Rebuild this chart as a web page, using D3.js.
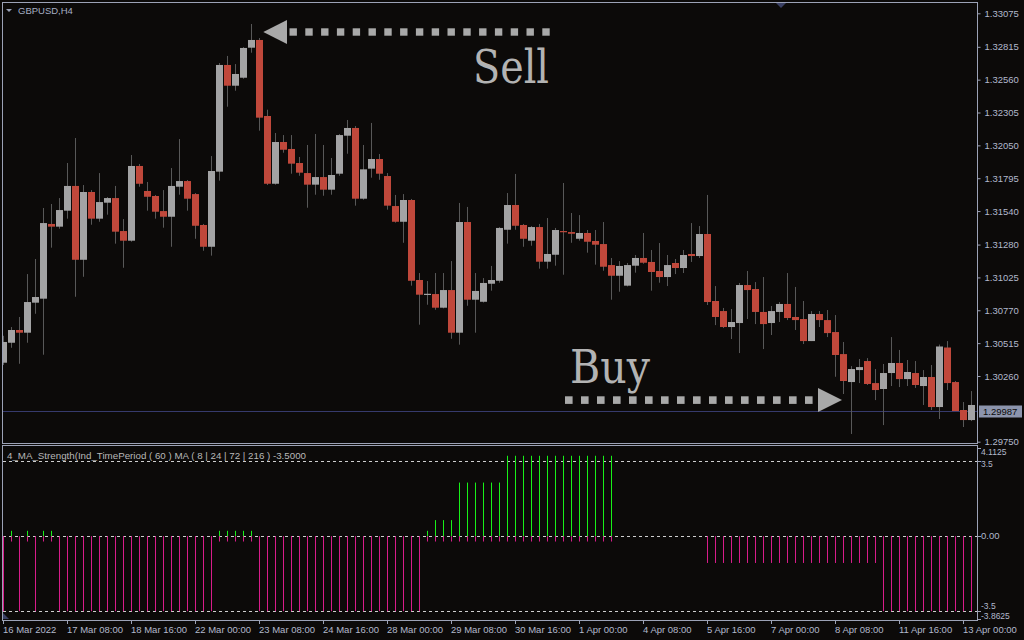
<!DOCTYPE html>
<html><head><meta charset="utf-8">
<script src="https://cdn.jsdelivr.net/npm/d3@7"></script>
<style>html,body{margin:0;padding:0;background:#0c0a09;} svg{display:block}</style>
</head><body><svg id="c" width="1024" height="640"></svg>
<script>
// ---- DATA (GBPUSD H4) ----
const openP = [1.30363,1.30518,1.30617,1.30596,1.30829,1.30860,1.31440,1.31419,1.31543,1.31735,
1.31162,1.31688,1.31481,1.31605,1.31641,1.31385,1.31310,1.31890,1.31696,1.31657,
1.31540,1.31496,1.31729,1.31773,1.31672,1.31432,1.31263,1.31846,1.32674,1.32513,
1.32575,1.32808,1.32868,1.32278,1.31752,1.32076,1.32022,1.31913,1.31835,1.31745,
1.31804,1.31706,1.31830,1.32125,1.32185,1.31636,1.31869,1.31944,1.31812,1.31579,
1.31457,1.31626,1.31005,1.30891,1.30896,1.30790,1.30927,1.30596,1.31455,1.30852,
1.30836,1.30976,1.30999,1.31395,1.31587,1.31432,1.31310,1.31416,1.31147,1.31201,
1.31385,1.31377,1.31325,1.31370,1.31308,1.31284,1.31121,1.31038,1.30961,1.31116,
1.31176,1.31145,1.31075,1.31028,1.31137,1.31098,1.31207,1.31191,1.31362,1.30842,
1.30764,1.30640,1.30671,1.30966,1.30935,1.30757,1.30671,1.30757,1.30819,1.30718,
1.30702,1.30531,1.30741,1.30694,1.30601,1.30430,1.30213,1.30306,1.30376,1.30205,
1.30159,1.30283,1.30361,1.30236,1.30283,1.30182,1.30252,1.30019,1.30481,1.30213,
1.29996,1.29918];
const highP = [1.30572,1.30640,1.30718,1.31051,1.31168,1.31564,1.31595,1.31641,1.31913,1.32107,
1.31742,1.31703,1.31835,1.31649,1.31735,1.31478,1.31975,1.31905,1.31766,1.31665,
1.31703,1.31874,1.32099,1.31781,1.31680,1.31440,1.31967,1.32689,1.32744,1.32681,
1.32813,1.32992,1.32883,1.32327,1.32146,1.32130,1.32130,1.31960,1.32053,1.32138,
1.32053,1.31952,1.32138,1.32247,1.32200,1.32053,1.32224,1.31983,1.31835,1.31665,
1.31672,1.31634,1.31059,1.30997,1.31059,1.31059,1.31152,1.31603,1.31572,1.31059,
1.31020,1.31114,1.31416,1.31680,1.31828,1.31440,1.31424,1.31440,1.31486,1.31409,
1.31758,1.31525,1.31509,1.31393,1.31393,1.31455,1.31176,1.31152,1.31137,1.31199,
1.31370,1.31238,1.31292,1.31199,1.31168,1.31238,1.31447,1.31424,1.31665,1.30958,
1.30788,1.30780,1.30982,1.31075,1.30989,1.31028,1.30803,1.30834,1.31059,1.30951,
1.30842,1.30764,1.30764,1.30772,1.30733,1.30524,1.30337,1.30392,1.30399,1.30314,
1.30353,1.30562,1.30462,1.30384,1.30376,1.30306,1.30345,1.30504,1.30531,1.30221,
1.30058,1.30143];
const lowP = [1.30345,1.30479,1.30355,1.30518,1.30743,1.30425,1.31256,1.31403,1.31481,1.30875,
1.31030,1.31434,1.31457,1.31512,1.31287,1.31100,1.31302,1.31729,1.31543,1.31481,
1.31411,1.31263,1.31667,1.31543,1.31325,1.31232,1.31194,1.31776,1.32350,1.32474,
1.32567,1.32769,1.32164,1.31742,1.31745,1.31993,1.31830,1.31814,1.31566,1.31667,
1.31659,1.31667,1.31814,1.31985,1.31582,1.31628,1.31799,1.31783,1.31551,1.31450,
1.31294,1.30961,1.30658,1.30813,1.30774,1.30785,1.30549,1.30503,1.30805,1.30596,
1.30830,1.30922,1.30984,1.31287,1.31395,1.31263,1.31271,1.31093,1.31093,1.31116,
1.31046,1.31294,1.31310,1.31217,1.31124,1.31077,1.30852,1.30914,1.30955,1.31062,
1.31131,1.30922,1.30984,1.30958,1.31051,1.31059,1.31145,1.31176,1.30811,1.30655,
1.30632,1.30547,1.30438,1.30702,1.30663,1.30469,1.30578,1.30679,1.30694,1.30617,
1.30508,1.30531,1.30640,1.30562,1.30254,1.30120,1.29810,1.30205,1.30190,1.30073,
1.29879,1.30182,1.30174,1.30182,1.30167,1.30035,1.29996,1.29926,1.30151,1.29988,
1.29864,1.29910];
const closeP = [1.30524,1.30617,1.30596,1.30834,1.30873,1.31447,1.31419,1.31548,1.31735,1.31162,
1.31688,1.31481,1.31610,1.31641,1.31380,1.31310,1.31890,1.31752,1.31651,1.31535,
1.31496,1.31735,1.31773,1.31636,1.31426,1.31263,1.31851,1.32674,1.32513,1.32604,
1.32806,1.32868,1.32265,1.31752,1.32076,1.32016,1.31908,1.31838,1.31745,1.31804,
1.31706,1.31820,1.32130,1.32185,1.31636,1.31864,1.31944,1.31830,1.31582,1.31457,
1.31626,1.30999,1.30891,1.30898,1.30790,1.30927,1.30596,1.31455,1.30852,1.30920,
1.30982,1.31005,1.31409,1.31587,1.31426,1.31325,1.31416,1.31147,1.31207,1.31393,
1.31377,1.31364,1.31370,1.31302,1.31279,1.31108,1.31038,1.31114,1.31121,1.31176,
1.31139,1.31067,1.31028,1.31121,1.31098,1.31199,1.31191,1.31362,1.30834,1.30718,
1.30640,1.30679,1.30966,1.30927,1.30757,1.30663,1.30764,1.30819,1.30710,1.30694,
1.30531,1.30741,1.30694,1.30593,1.30423,1.30221,1.30314,1.30329,1.30198,1.30151,
1.30283,1.30361,1.30236,1.30291,1.30190,1.30252,1.30019,1.30489,1.30205,1.29988,
1.29918,1.30035];
const currentPrice = 1.29987;
const priceTicks = [1.33075,1.32815,1.32560,1.32305,1.32050,1.31795,1.31540,1.31280,1.31025,1.30770,1.30515,1.30260,1.29750];
const timeLabels = ["16 Mar 2022","17 Mar 08:00","18 Mar 16:00","22 Mar 00:00","23 Mar 08:00","24 Mar 16:00","28 Mar 00:00","29 Mar 08:00","30 Mar 16:00","1 Apr 00:00","4 Apr 08:00","5 Apr 16:00","7 Apr 00:00","8 Apr 08:00","11 Apr 16:00","13 Apr 00:00"];
const timeLabelIdx = [0,8,16,24,32,40,48,56,64,72,80,88,96,104,112,120];
// 4_MA_Strength histogram: positive (green) and negative (magenta) parts
const strengthUp = [0,0.25,0,0.25,0,0.25,0.25,
0,0,0,0,0,0,0,0,0,0,0,0,0,0,0,0,0,0,0,0,
0.25,0.25,0.25,0.25,0.25,
0,0,0,0,0,0,0,0,0,0,0,0,0,0,0,0,0,0,0,0,0,
0.25,0.75,0.75,0.75,
2.5,2.5,2.5,2.5,2.5,2.5,
3.75,3.75,3.75,3.75,3.75,3.75,3.75,3.75,3.75,3.75,3.75,3.75,3.75,3.75,
0,0,0,0,0,0,0,0,0,0,0,0,0,0,0,0,0,0,0,0,0,0,0,0,0,0,0,0,0,0,0,0,0,0,0,0,0,0,0,0,0,0,0,0,0];
const strengthDown = [-3.5,-0.25,-3.5,-0.25,-3.5,-0.25,-0.25,
-3.5,-3.5,-3.5,-3.5,-3.5,-3.5,-3.5,-3.5,-3.5,-3.5,-3.5,-3.5,-3.5,-3.5,-3.5,-3.5,-3.5,-3.5,-3.5,-3.5,
-0.25,-0.25,-0.25,-0.25,-0.25,
-3.5,-3.5,-3.5,-3.5,-3.5,-3.5,-3.5,-3.5,-3.5,-3.5,-3.5,-3.5,-3.5,-3.5,-3.5,-3.5,-3.5,-3.5,-3.5,-3.5,-3.5,
-0.25,-0.25,-0.25,-0.25,-0.25,-0.25,-0.25,-0.25,-0.25,-0.25,-0.25,-0.25,-0.25,-0.25,-0.25,-0.25,-0.25,-0.25,-0.25,-0.25,-0.25,-0.25,-0.25,-0.25,
0,0,0,0,0,0,0,0,0,0,0,
-1.25,-1.25,-1.25,-1.25,-1.25,-1.25,-1.25,-1.25,-1.25,-1.25,-1.25,-1.25,-1.25,-1.25,-1.25,-1.25,-1.25,-1.25,-1.25,-1.25,-1.25,-1.25,
-3.5,-3.5,-3.5,-3.5,-3.5,-3.5,-3.5,-3.5,-3.5,-3.5,-3.5,-3.5];
const indLevels = [3.5, 0, -3.5];
const indAxisLabels = ["4.1125","3.5","0.00","-3.5","-3.8625"];
const indAxisValues = [4.1125, 3.5, 0, -3.5, -3.8625];

// ---- DRAWING ----
const N = closeP.length;
const svg = d3.select('#c');
const BG = '#0c0a09', FRAME = '#9ca2b6', AXT = '#b2b9cc';
const RED = '#c0483b', GRAY = '#a3a3a4', WICK = '#585858';
const UI = "'Liberation Sans', Arial, sans-serif";

svg.append('rect').attr('width',1024).attr('height',640).attr('fill',BG);

const x = d3.scaleLinear().domain([0, N-1]).range([3.5, 3.5 + 8*(N-1)]);
const y = d3.scaleLinear().domain([1.29750, 1.33075]).range([441.7, 13.3]);
const yi = d3.scaleLinear().domain([-3.8625, 4.1125]).range([619, 448]);

const defs = svg.append('defs');
defs.append('clipPath').attr('id','mainClip').append('rect').attr('x',3).attr('y',3).attr('width',974).attr('height',440);
defs.append('clipPath').attr('id','indClip').append('rect').attr('x',3).attr('y',447).attr('width',974).attr('height',173);

// current price line
const cpY = Math.floor(y(currentPrice)) + 0.5;
svg.append('line').attr('x1',3).attr('x2',977).attr('y1',cpY).attr('y2',cpY)
  .attr('stroke','#363a6c').attr('stroke-width',1);

// candles
const cg = svg.append('g').attr('clip-path','url(#mainClip)');
const idx = d3.range(N);
cg.selectAll('line.wick').data(idx).join('line').attr('class','wick')
  .attr('x1', i => x(i)).attr('x2', i => x(i))
  .attr('y1', i => y(highP[i])).attr('y2', i => y(lowP[i]))
  .attr('stroke', WICK).attr('stroke-width',1);
cg.selectAll('rect.body').data(idx).join('rect').attr('class','body')
  .attr('x', i => x(i) - 3.5).attr('width', 7)
  .attr('y', i => y(Math.max(openP[i], closeP[i])))
  .attr('height', i => Math.max(1.2, Math.abs(y(openP[i]) - y(closeP[i]))))
  .attr('fill', i => closeP[i] >= openP[i] ? GRAY : RED);

// frames
svg.append('rect').attr('x',2.5).attr('y',2.5).attr('width',975).attr('height',441)
  .attr('fill','none').attr('stroke',FRAME).attr('stroke-width',1);
svg.append('rect').attr('x',2.5).attr('y',445.5).attr('width',975).attr('height',175)
  .attr('fill','none').attr('stroke',FRAME).attr('stroke-width',1);

// price axis
const pa = svg.append('g').attr('transform','translate(977.5,0)')
  .call(d3.axisRight(y).tickValues(priceTicks).tickSize(3).tickPadding(4).tickFormat(d3.format('.5f')));
pa.select('.domain').remove();
pa.selectAll('line').attr('stroke',FRAME);
pa.selectAll('text').attr('fill',AXT).style('font-family',UI).style('font-size','9.5px');

// current price tag
svg.append('rect').attr('x',979).attr('y',cpY-6).attr('width',43).attr('height',12).attr('fill','#8d95ad');
svg.append('text').attr('x',983).attr('y',cpY+3.5).text(d3.format('.5f')(currentPrice))
  .attr('fill','#0c0a09').style('font-family',UI).style('font-size','9.5px');

// title
svg.append('path').attr('d','M6,9 L12,9 L9,12 Z').attr('fill','#9aa2b8');
svg.append('text').attr('x',18).attr('y',14).text('GBPUSD,H4')
  .attr('fill','#a6aec4').style('font-family',UI).style('font-size','9.5px');
// chart-shift marker
svg.append('path').attr('d','M776,3 L786,3 L781,8 Z').attr('fill','#3a4064');

// Sell / Buy annotations
const ANN = '#a9a9a9';
svg.append('path').attr('d','M263.3,32 L287,20 L287,44 Z').attr('fill',ANN);
svg.selectAll('rect.sellsq').data(d3.range(17)).join('rect').attr('class','sellsq')
  .attr('x', k => 289.5 + 15.8*k).attr('y',28.3).attr('width',7.4).attr('height',7.4).attr('fill',ANN);
svg.append('text').attr('x',473).attr('y',82.5).text('Sell')
  .attr('fill','#b3b3b3').attr('textLength',76).attr('lengthAdjust','spacingAndGlyphs')
  .style('font-family',"'DejaVu Serif', serif").style('font-size','46px');

svg.append('path').attr('d','M842,400 L818,388 L818,412 Z').attr('fill',ANN);
svg.selectAll('rect.buysq').data(d3.range(16)).join('rect').attr('class','buysq')
  .attr('x', k => 565 + 16*k).attr('y',396.3).attr('width',7.6).attr('height',7.6).attr('fill',ANN);
svg.append('text').attr('x',570).attr('y',383).text('Buy')
  .attr('fill','#b3b3b3').attr('textLength',80).attr('lengthAdjust','spacingAndGlyphs')
  .style('font-family',"'DejaVu Serif', serif").style('font-size','46px');

// indicator panel
const ig = svg.append('g').attr('clip-path','url(#indClip)');
ig.selectAll('line.lvl').data(indLevels).join('line').attr('class','lvl')
  .attr('x1',3).attr('x2',977).attr('y1', v => Math.round(yi(v))+0.5).attr('y2', v => Math.round(yi(v))+0.5)
  .attr('stroke','#cfcfcf').attr('stroke-width',1).attr('stroke-dasharray','3,3');
ig.selectAll('line.dn').data(idx.filter(i => strengthDown[i] !== 0)).join('line').attr('class','dn')
  .attr('x1', i => x(i)).attr('x2', i => x(i))
  .attr('y1', yi(0)).attr('y2', i => yi(strengthDown[i]))
  .attr('stroke','#d81c8a').attr('stroke-width',1);
ig.selectAll('line.up').data(idx.filter(i => strengthUp[i] !== 0)).join('line').attr('class','up')
  .attr('x1', i => x(i)).attr('x2', i => x(i))
  .attr('y1', yi(0)).attr('y2', i => yi(strengthUp[i]))
  .attr('stroke','#18f018').attr('stroke-width',1);
svg.append('path').attr('d','M3,613 L3,619 L9,619 Z').attr('fill','#3a4064');

svg.append('text').attr('x',7).attr('y',459).text('4_MA_Strength(Ind_TimePeriod ( 60 ) MA ( 8 | 24 | 72 | 216 )  -3.5000')
  .attr('fill','#b8b8b8').attr('textLength',299).attr('lengthAdjust','spacingAndGlyphs')
  .style('font-family',UI).style('font-size','9.5px');

// indicator axis labels (positions nudged apart inside the panel)
const ia = svg.append('g');
const labelY = v => v > 4 ? 452 : (v > 3 ? 463.5 : (v < -3.7 ? 615.5 : (v < -3 ? 605.5 : yi(v))));
indAxisValues.forEach((v,k) => {
  const tickY = Math.round(Math.min(619, Math.max(448, yi(v)))) + 0.5;
  ia.append('line').attr('x1',977.5).attr('x2',981).attr('y1',tickY).attr('y2',tickY).attr('stroke',FRAME);
  ia.append('text').attr('x',981).attr('y',labelY(v)+3).text(indAxisLabels[k])
    .attr('fill',AXT).style('font-family',UI).style('font-size', Math.abs(v) > 3 ? '8.5px' : '9.5px');
});

// time axis
const ta = svg.append('g');
timeLabelIdx.forEach((ti,k) => {
  const xx = x(ti);
  ta.append('line').attr('x1',xx).attr('x2',xx).attr('y1',620.5).attr('y2',624).attr('stroke',FRAME);
  ta.append('text').attr('x',xx-0.5).attr('y',632.5).text(timeLabels[k])
    .attr('fill',AXT).style('font-family',UI).style('font-size','9.5px');
});
</script></body></html>
